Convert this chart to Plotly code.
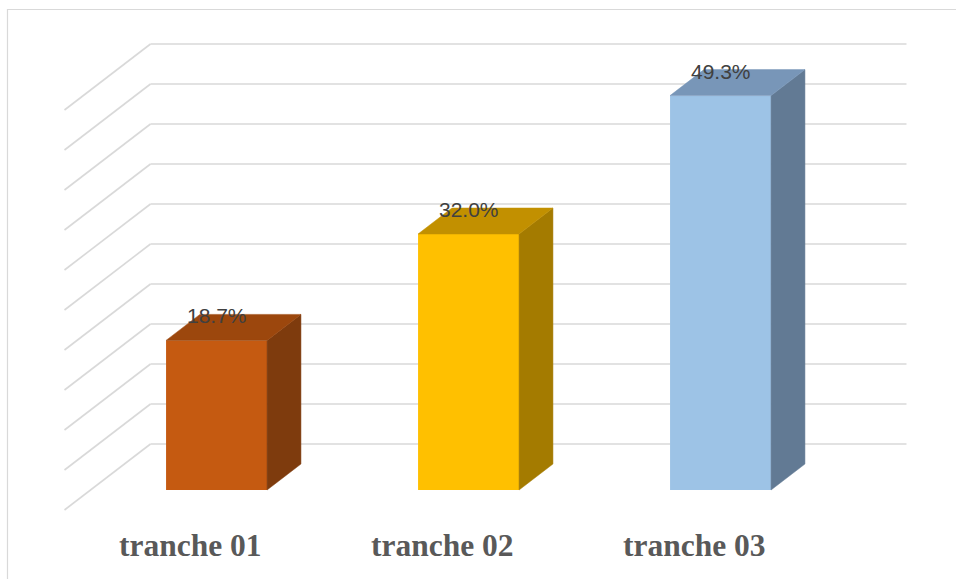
import plotly.graph_objects as go

# ---- data ----
categories = ["tranche 01", "tranche 02", "tranche 03"]
values = [18.7, 32.0, 49.3]
value_labels = ["18.7%", "32.0%", "49.3%"]
grid_ticks = [0, 5, 10, 15, 20, 25, 30, 35, 40, 45, 50]

front_colors = ["#C55A11", "#FFC000", "#9DC3E6"]
top_colors = ["#9C470D", "#C29000", "#7896B8"]
side_colors = ["#7E3B0D", "#A47B00", "#627A94"]

# ---- 3D geometry (data units: 1 category step, 1 percent) ----
W, H = 956, 579
PX_CAT = 252.0   # px per category
PX_PCT = 8.0     # px per percent
DX = 86 / PX_CAT  # full floor depth, horizontal
DY = 66 / PX_PCT  # full floor depth, vertical
D0, D1 = 20 / 66, 46 / 66  # bar front/back depth fractions
HALF = 50.5 / PX_CAT
X0_PX, Y0_PX = 190.5, 510.0  # pixel of (cat 0, 0%) at floor front

xr = [-X0_PX / PX_CAT, (W - X0_PX) / PX_CAT]
yr = [-(H - Y0_PX) / PX_PCT, Y0_PX / PX_PCT]

fig = go.Figure()

shapes = []
# gridlines: back wall + side wall diagonals (below traces)
grid_line = dict(color="#D9D9D9", width=1.6)
for t in grid_ticks:
    shapes.append(dict(type="line", xref="x", yref="y", layer="below",
                       x0=-0.5, y0=t, x1=-0.5 + DX, y1=t + DY, line=grid_line))
    shapes.append(dict(type="line", xref="x", yref="y", layer="below",
                       x0=-0.5 + DX, y0=t + DY, x1=2.5 + DX, y1=t + DY, line=grid_line))

base = D0 * DY
ddx = (D1 - D0) * DX
ddy = (D1 - D0) * DY
centers = [i + D0 * DX for i in range(len(categories))]

# side and top faces
for i, v in enumerate(values):
    c = centers[i]
    xl, xrt = c - HALF, c + HALF
    vt = base + v
    fig.add_trace(go.Scatter(
        x=[xrt, xrt, xrt + ddx, xrt + ddx, xrt],
        y=[base, vt, vt + ddy, base + ddy, base],
        mode="lines", fill="toself", fillcolor=side_colors[i],
        line=dict(color=side_colors[i], width=0.5),
        hoverinfo="skip", showlegend=False))
    fig.add_trace(go.Scatter(
        x=[xl, xrt, xrt + ddx, xl + ddx, xl],
        y=[vt, vt, vt + ddy, vt + ddy, vt],
        mode="lines", fill="toself", fillcolor=top_colors[i],
        line=dict(color=top_colors[i], width=0.5),
        hoverinfo="skip", showlegend=False))

# front faces
fig.add_trace(go.Bar(x=centers, y=values, base=[base] * len(values),
                     width=[2 * HALF] * len(values),
                     marker=dict(color=front_colors, line=dict(width=0)),
                     hoverinfo="skip", showlegend=False))

annotations = []
for i, v in enumerate(values):
    annotations.append(dict(
        x=centers[i], y=base + v, xref="x", yref="y",
        text=value_labels[i], showarrow=False, yanchor="bottom",
        yshift=11, font=dict(family="Liberation Sans", size=21, color="#404040")))
for i, cat in enumerate(categories):
    annotations.append(dict(
        x=i, y=-(545 - Y0_PX) / PX_PCT, xref="x", yref="y",
        text="<b>" + cat + "</b>", showarrow=False, yanchor="middle",
        font=dict(family="Liberation Serif", size=31.5, color="#595959")))

shapes += [
    dict(type="line", xref="paper", yref="paper",
         x0=7.5 / W, x1=7.5 / W, y0=1 - 9 / H, y1=0,
         line=dict(color="#D9D9D9", width=1.2)),
    dict(type="line", xref="paper", yref="paper",
         x0=7 / W, x1=1, y0=1 - 9.5 / H, y1=1 - 9.5 / H,
         line=dict(color="#D9D9D9", width=1.2)),
]

fig.update_layout(
    width=W, height=H, margin=dict(l=0, r=0, t=0, b=0),
    paper_bgcolor="white", plot_bgcolor="white",
    xaxis=dict(range=xr, visible=False, fixedrange=True),
    yaxis=dict(range=yr, visible=False, fixedrange=True),
    annotations=annotations, shapes=shapes, showlegend=False,
)

fig.write_html("out.html", config={"displayModeBar": False})
